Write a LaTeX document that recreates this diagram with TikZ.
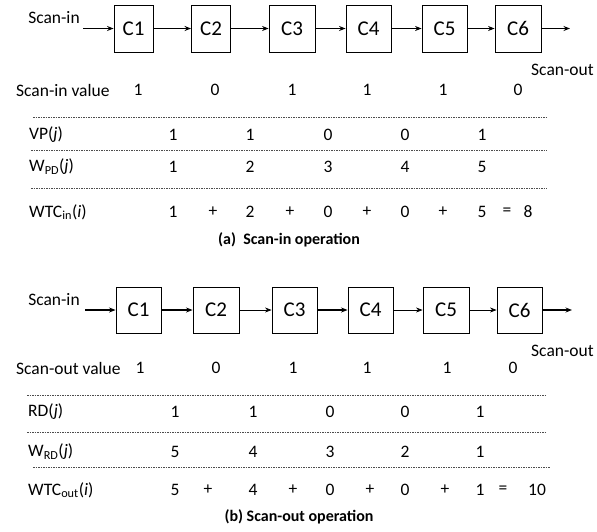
\documentclass[tikz,border=0pt]{standalone}
\usepackage{fontspec}
\setmainfont{Carlito}
\usetikzlibrary{arrows.meta}
\begin{document}
\begin{tikzpicture}[x=1pt,y=-1pt,
  cell/.style={draw,line width=0.9pt,minimum height=47pt,inner sep=0pt,font=\fontsize{21}{21}\selectfont},
  txt/.style={inner sep=0pt,font=\fontsize{17.5}{17.5}\selectfont},
  lbl/.style={txt,anchor=west},
  captext/.style={inner sep=0pt,font=\fontsize{16}{16}\selectfont\bfseries},
  sep/.style={line width=0.5pt,dash pattern=on 1.5pt off 1pt,black!70},
  arr/.style={line width=1.1pt,-{Stealth[length=6.5pt,width=5pt]}},
  arrt/.style={line width=0.7pt,-{Stealth[length=6.5pt,width=5pt]}}]
\useasboundingbox (0,0) rectangle (597,531);
% ---------- (a) ----------
\node[cell,minimum width=39pt] (a1) at (133.5,28.5) {C1};
\node[cell,minimum width=39pt] (a2) at (211,28.5) {C2};
\node[cell,minimum width=46pt] (a3) at (292,28.5) {C3};
\node[cell,minimum width=45pt] (a4) at (368.5,28.5) {C4};
\node[cell,minimum width=45pt] (a5) at (444.5,28.5) {C5};
\node[cell,minimum width=46pt] (a6) at (518,28.5) {C6};
\coordinate (ain) at (83,28.5);
\coordinate (aout) at (570,28.5);
\draw[arr] (ain) -- (a1);
\draw[arr] (a1) -- (a2);
\draw[arrt] (a2) -- (a3);
\draw[arr] (a3) -- (a4);
\draw[arrt] (a4) -- (a5);
\draw[arrt] (a5) -- (a6);
\draw[arr] (a6) -- (aout);
\node[txt] (asin) at (54,18) {Scan-in};
\node[txt,anchor=west] (asout) at (531,70) {Scan-out};
\node[lbl] (arow0) at (16,90) {Scan-in value};
\node[txt] (av1) at (138,90) {1};
\node[txt] (av2) at (215,90) {0};
\node[txt] (av3) at (292,90) {1};
\node[txt] (av4) at (367,90) {1};
\node[txt] (av5) at (443,90) {1};
\node[txt] (av6) at (518,90) {0};
\draw[sep] (33,117) -- (547,117);
\node[lbl] (arow1) at (29,135) {VP(\textit{j})};
\node[txt] (avp1) at (173,135) {1};
\node[txt] (avp2) at (250,135) {1};
\node[txt] (avp3) at (328,135) {0};
\node[txt] (avp4) at (405,135) {0};
\node[txt] (avp5) at (482,135) {1};
\draw[sep] (31,150) -- (547,150);
\node[lbl] (arow2) at (29,167) {W\textsubscript{PD}(\textit{j})};
\node[txt] (aw1) at (173,167) {1};
\node[txt] (aw2) at (250,167) {2};
\node[txt] (aw3) at (328,167) {3};
\node[txt] (aw4) at (405,167) {4};
\node[txt] (aw5) at (482,167) {5};
\draw[sep] (31,188) -- (547,188);
\node[lbl] (arow3) at (29,212) {WTC\textsubscript{in}(\textit{i})};
\node[txt] (at1) at (173,212) {1};
\node[txt] (ap1) at (213,212) {+};
\node[txt] (at2) at (250,212) {2};
\node[txt] (ap2) at (290,212) {+};
\node[txt] (at3) at (328,212) {0};
\node[txt] (ap3) at (367,212) {+};
\node[txt] (at4) at (405,212) {0};
\node[txt] (ap4) at (443,212) {+};
\node[txt] (at5) at (482,212) {5};
\node[txt] (aeq) at (507,212) {=};
\node[txt] (ares) at (528,212) {8};
\node[captext] (acap) at (289,240) {(a)\ \ Scan-in operation};
% ---------- (b) ----------
\node[cell,minimum width=45pt,minimum height=46pt] (b1) at (138.5,310) {C1};
\node[cell,minimum width=46pt,minimum height=46pt] (b2) at (216,310) {C2};
\node[cell,minimum width=45pt,minimum height=46pt] (b3) at (294.5,310) {C3};
\node[cell,minimum width=45pt,minimum height=46pt] (b4) at (370.5,310) {C4};
\node[cell,minimum width=46pt,minimum height=46pt] (b5) at (446,310) {C5};
\node[cell,minimum width=45pt,minimum height=46pt] (b6) at (519.5,310) {C6};
\coordinate (bin) at (85,310);
\coordinate (bout) at (572,310);
\draw[arr] (bin) -- (b1);
\draw[arr] (b1) -- (b2);
\draw[arrt] (b2) -- (b3);
\draw[arr] (b3) -- (b4);
\draw[arrt] (b4) -- (b5);
\draw[arrt] (b5) -- (b6);
\draw[arr] (b6) -- (bout);
\node[txt] (bsin) at (54,300) {Scan-in};
\node[txt,anchor=west] (bsout) at (531,351) {Scan-out};
\node[lbl] (brow0) at (16,368) {Scan-out value};
\node[txt] (bv1) at (140,368) {1};
\node[txt] (bv2) at (216,368) {0};
\node[txt] (bv3) at (293,368) {1};
\node[txt] (bv4) at (367,368) {1};
\node[txt] (bv5) at (447,368) {1};
\node[txt] (bv6) at (513,368) {0};
\draw[sep] (27,395) -- (545,395);
\node[lbl] (brow1) at (28,412) {RD(\textit{j})};
\node[txt] (brd1) at (175,412) {1};
\node[txt] (brd2) at (253,412) {1};
\node[txt] (brd3) at (330,412) {0};
\node[txt] (brd4) at (405,412) {0};
\node[txt] (brd5) at (480,412) {1};
\draw[sep] (27,432) -- (545,432);
\node[lbl] (brow2) at (28,452) {W\textsubscript{RD}(\textit{j})};
\node[txt] (bw1) at (175,452) {5};
\node[txt] (bw2) at (253,452) {4};
\node[txt] (bw3) at (330,452) {3};
\node[txt] (bw4) at (405,452) {2};
\node[txt] (bw5) at (480,452) {1};
\draw[sep] (33,467) -- (550,467);
\node[lbl] (brow3) at (28,490) {WTC\textsubscript{out}(\textit{i})};
\node[txt] (bt1) at (175,490) {5};
\node[txt] (bp1) at (208,490) {+};
\node[txt] (bt2) at (253,490) {4};
\node[txt] (bp2) at (293,490) {+};
\node[txt] (bt3) at (330,490) {0};
\node[txt] (bp3) at (370,490) {+};
\node[txt] (bt4) at (405,490) {0};
\node[txt] (bp4) at (445,490) {+};
\node[txt] (bt5) at (480,490) {1};
\node[txt] (beq) at (503,490) {=};
\node[txt] (bres) at (537,490) {10};
\node[captext] (bcap) at (299,517) {(b) Scan-out operation};
\end{tikzpicture}
\end{document}
